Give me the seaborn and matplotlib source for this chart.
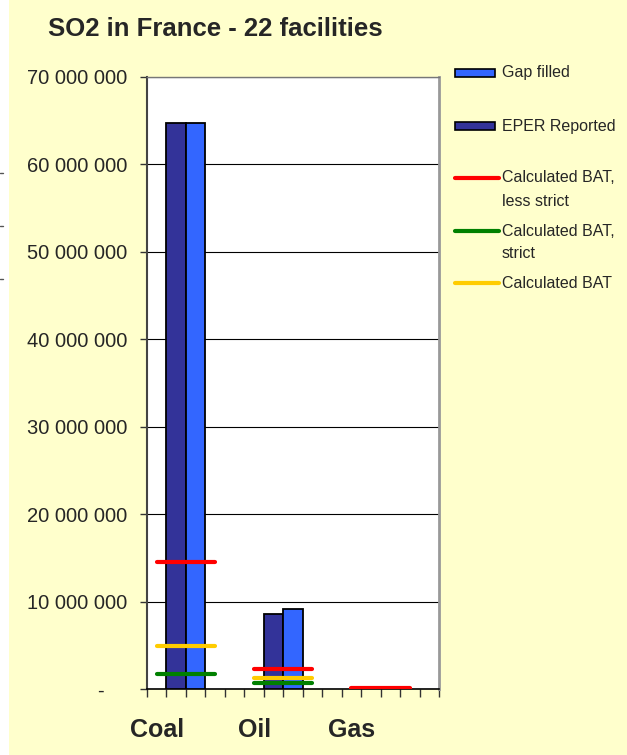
import numpy as np
import pandas as pd
import matplotlib
matplotlib.use("Agg")
import matplotlib.pyplot as plt
from matplotlib.ticker import FixedLocator, FuncFormatter
from matplotlib.patches import Rectangle
from matplotlib.lines import Line2D
import seaborn as sns

# ---- data -------------------------------------------------------------
fuels = ["Coal", "Oil", "Gas"]
eper_reported = [64_700_000, 8_600_000, 0]
gap_filled = [64_700_000, 9_150_000, 0]
bat_less_strict = [14_550_000, 2_350_000, 150_000]
bat_strict = [1_800_000, 750_000, 0]
bat_calc = [4_900_000, 1_290_000, 0]
y_ticks = [0, 10_000_000, 20_000_000, 30_000_000, 40_000_000,
           50_000_000, 60_000_000, 70_000_000]

title = "SO2 in France - 22 facilities"
series_names = ["EPER Reported", "Gap filled"]
colors = {"EPER Reported": "#333399", "Gap filled": "#3366FF"}
line_colors = {"less": "#FF0000", "strict": "#008000", "calc": "#FFCC00"}
bg = "#FFFFCC"

# ---- layout: each fuel owns 5 slots; label slot, two bars, two spacers --
SLOTS = 5
label_pos = np.arange(len(fuels)) * SLOTS
rows = []
for i, f in enumerate(fuels):
    rows.append({"pos": label_pos[i] + 1, "value": eper_reported[i], "series": "EPER Reported"})
    rows.append({"pos": label_pos[i] + 2, "value": gap_filled[i], "series": "Gap filled"})
df = pd.DataFrame(rows)
group_center = label_pos + 1.5

sns.set_style("white")
plt.rcParams["font.family"] = ["Liberation Sans", "DejaVu Sans"]

W, H = 627, 755
fig = plt.figure(figsize=(W / 100, H / 100), dpi=100, facecolor=bg)
ax = fig.add_axes([147 / W, (H - 689.3) / H, 292 / W, 612.6 / H])
ax.set_facecolor("white")

sns.barplot(data=df, x="pos", y="value", hue="series", hue_order=series_names,
            palette=colors, saturation=1, native_scale=True, dodge=False,
            width=1.0, edgecolor="black", linewidth=1.3, errorbar=None,
            legend=False, ax=ax, zorder=3)

# BAT reference levels, one short segment per fuel
for vals, key in [(bat_strict, "strict"), (bat_calc, "calc"), (bat_less_strict, "less")]:
    ax.hlines(vals, group_center - 1.5, group_center + 1.5,
              colors=line_colors[key], linewidth=3.0, capstyle="round", zorder=4)

ax.set_xlim(-0.5, 3 * SLOTS - 0.5)
ax.set_ylim(0, 70_000_000)

# y axis
ax.yaxis.set_major_locator(FixedLocator(y_ticks))
ax.yaxis.set_major_formatter(FuncFormatter(
    lambda v, p: "-    " if v == 0 else f"{v:,.0f}".replace(",", " ")))
ax.yaxis.grid(True, color="black", linewidth=0.8)
ax.set_axisbelow(True)
ax.tick_params(axis="y", which="major", direction="out", length=5, width=1,
               color="#333333", pad=9, labelsize=14.5, left=True)

# x axis: category labels in their slots, ticks between all slots
ax.xaxis.set_major_locator(FixedLocator(label_pos))
ax.set_xticklabels(fuels, fontsize=18, fontweight="bold")
ax.xaxis.set_minor_locator(FixedLocator(np.arange(-0.5, 3 * SLOTS, 1.0)))
ax.tick_params(axis="x", which="major", length=0, pad=21)
ax.tick_params(axis="x", which="minor", direction="out", length=6, width=1,
               color="#333333", bottom=True)
ax.set_xlabel("")
ax.set_ylabel("")

for side, c, lw in [("left", "#444444", 1.5), ("bottom", "black", 1.2),
                    ("top", "#777777", 1.0), ("right", "#999999", 2.0)]:
    ax.spines[side].set_visible(True)
    ax.spines[side].set_color(c)
    ax.spines[side].set_linewidth(lw)

# title
fig.text(48 / W, 1 - 29 / H, title, fontsize=18.5, fontweight="bold",
         ha="left", va="center")


def fx(x):
    return x / W


def fy(y):
    return 1 - y / H


# white margin at the left edge, with stray tick stubs
fig.add_artist(Rectangle((0, 0), 9 / W, 1, transform=fig.transFigure,
                         facecolor="white", edgecolor="none", zorder=0))
for yy in (173, 226, 279):
    fig.add_artist(Line2D([fx(0), fx(3)], [fy(yy), fy(yy)],
                          transform=fig.transFigure, color="#555555", linewidth=1))

# legend entries
LEG_FS = 11.5
for name, yc in [("Gap filled", 73), ("EPER Reported", 126)]:
    fig.add_artist(Rectangle((fx(455), fy(yc + 4)), 40 / W, 8 / H,
                             transform=fig.transFigure, facecolor=colors[name],
                             edgecolor="black", linewidth=1.2))
    fig.text(fx(502), fy(yc), name, fontsize=LEG_FS, ha="left", va="center")

for key, yc, lines in [("less", 178, ["Calculated BAT,", "less strict"]),
                       ("strict", 231, ["Calculated BAT,", "strict"]),
                       ("calc", 283, ["Calculated BAT"])]:
    fig.add_artist(Line2D([fx(455), fx(499)], [fy(yc), fy(yc)],
                          transform=fig.transFigure, color=line_colors[key],
                          linewidth=3.0, solid_capstyle="round"))
    for k, txt in enumerate(lines):
        fig.text(fx(502), fy(yc + 23 * k), txt, fontsize=LEG_FS, ha="left", va="center")

fig.savefig("out.png", dpi=100, facecolor=bg)
